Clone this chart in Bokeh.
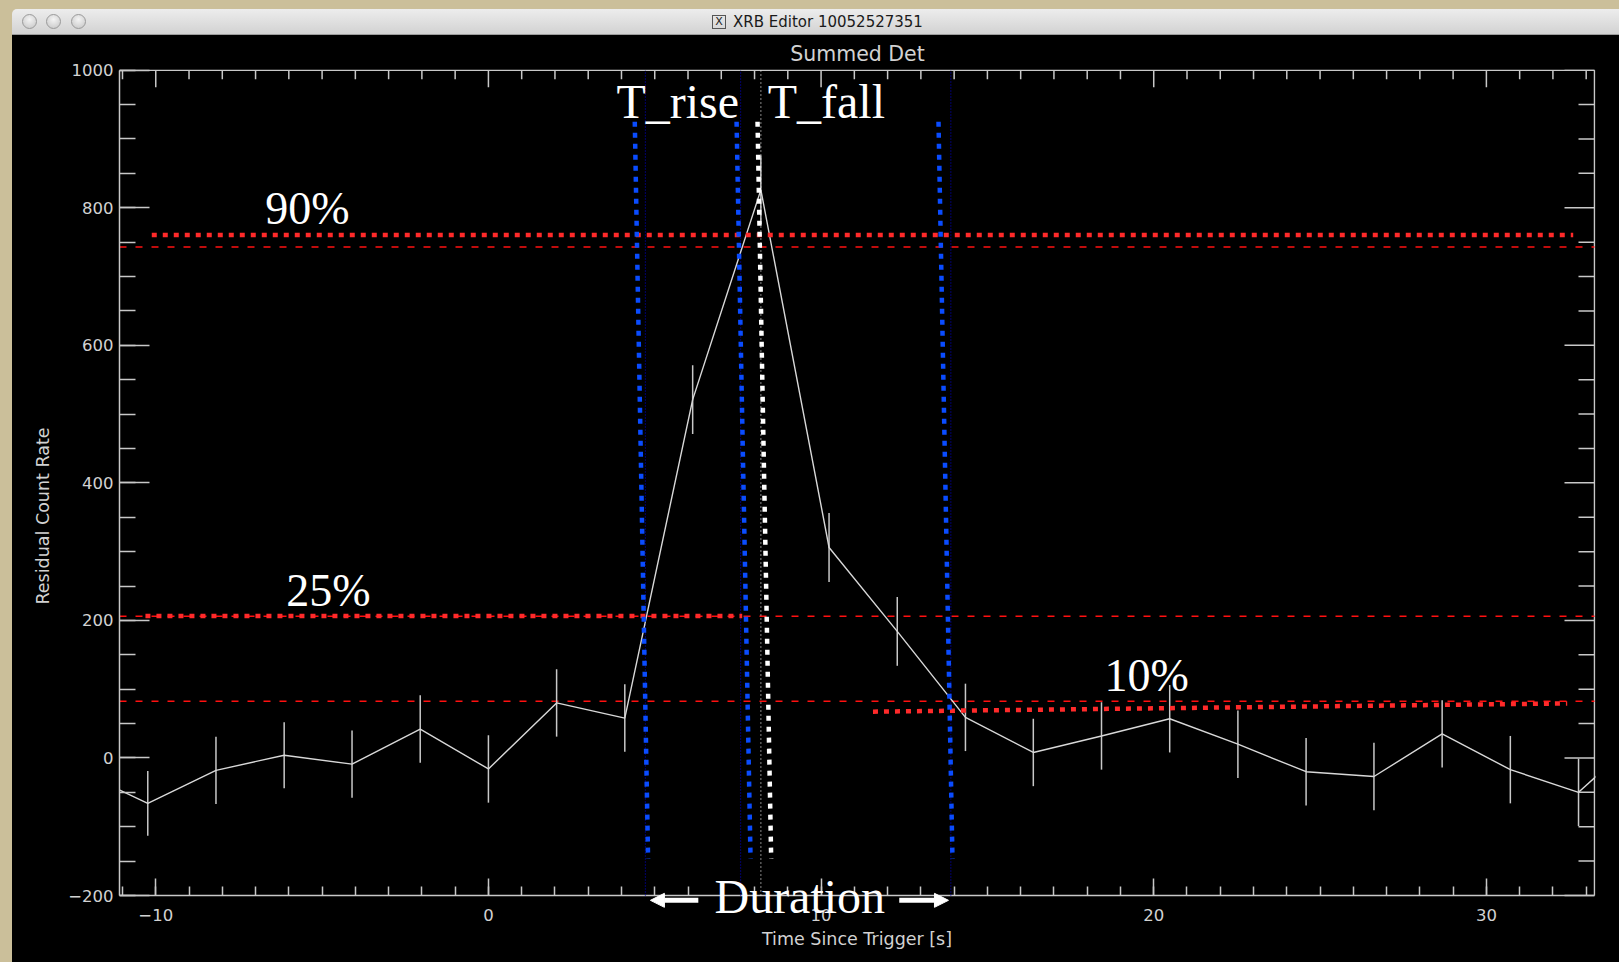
import math
from bokeh.plotting import figure
from bokeh.models import (Range1d, SingleIntervalTicker, Label, Arrow, NormalHead, Div,
                          ColumnDataSource)
from bokeh.layouts import column, row
from bokeh.embed import file_html
from bokeh.resources import INLINE

# ---------------- data ----------------
time_s = [-12.29, -10.24, -8.19, -6.14, -4.10, -2.05, 0.00, 2.05, 4.10, 6.14, 8.19, 10.24,
          12.29, 14.34, 16.38, 18.43, 20.48, 22.53, 24.58, 26.62, 28.67, 30.72, 32.77, 34.82]
rate = [-19, -66, -18, 4, -9, 42, -16, 80, 58, 521, 826, 306,
        184, 59, 8, 32, 57, 20, -20, -27, 35, -17, -50, 40]
rate_err = [48, 47, 49, 48, 49, 49, 49, 49, 49, 50, 50, 50,
            50, 49, 49, 49, 49, 49, 49, 49, 49, 49, 49, 49]

level_values = [743, 206, 82.5]          # 90%, 25%, 10% levels (thin red dashed)
blue_marks = [4.72, 7.58, 13.90]          # crossing times (thin blue dotted)
peak_mark = [8.19]                        # peak time (thin white dotted)

# hand-drawn overlay annotations (data coordinates)
red_x0 = [-10.12, -10.31, 11.56]
red_y0 = [760.5, 206.5, 67.3]
red_x1 = [32.61, 7.63, 32.43]
red_y1 = [760.5, 206.5, 79.3]
blue_x0 = [4.40, 7.46, 13.53]
blue_x1 = [4.80, 7.88, 13.95]
white_x0 = [8.09]
white_x1 = [8.50]
vline_top = 925
vline_bottom = -147

pct_texts = ["90%", "25%", "10%"]
pct_x = [-5.44, -4.81, 19.79]
pct_y = [799, 244, 120]
phase_texts = ["T_rise", "T_fall"]
phase_x = [5.69, 10.16]
phase_y = [954, 954]

# axis limits of the IDL plot box
X_LO, X_HI = -11.09, 33.25
Y_LO, Y_HI = -200, 1000
x_major_step, x_minor_step = 10, 1
y_major_step, y_minor_step = 200, 50

AX = "#c8c8c8"
TXT = "#d2d2d2"
FONT = "DejaVu Sans"
SERIF = "Liberation Serif"

p = figure(width=1607, height=927, x_range=Range1d(X_LO, 33.28), y_range=Range1d(-297.4, 1001),
           output_backend="svg", toolbar_location=None,
           background_fill_color="black", border_fill_color=None,
           min_border_left=107, min_border_right=24, min_border_top=34, min_border_bottom=0,
           styles={"background-color": "black"})
p.grid.visible = False
p.outline_line_color = None

p.title.text = "Summed Det"
p.title.align = "center"
p.title.text_font = FONT
p.title.text_font_size = "20.5px"
p.title.text_font_style = "normal"
p.title.text_color = TXT
p.title.standoff = 7

def style(ax, interval, nminor, tin, mtin):
    ax.ticker = SingleIntervalTicker(interval=interval, num_minor_ticks=nminor)
    ax.axis_line_color = AX
    ax.axis_line_width = 1.5
    ax.major_tick_line_color = AX
    ax.major_tick_line_width = 1.5
    ax.minor_tick_line_color = AX
    ax.minor_tick_line_width = 1.5
    ax.major_tick_in = tin
    ax.major_tick_out = 0
    ax.minor_tick_in = mtin
    ax.minor_tick_out = 0
    ax.major_label_text_font = FONT
    ax.major_label_text_font_size = "16.5px"
    ax.major_label_text_color = TXT
    ax.axis_label_text_font = FONT
    ax.axis_label_text_font_size = "17.5px"
    ax.axis_label_text_font_style = "normal"
    ax.axis_label_text_color = TXT

xax = p.xaxis[0]
style(xax, x_major_step, 10, 17, 9)
xax.fixed_location = Y_LO
xax.bounds = (X_LO, X_HI)
xax.axis_line_color = None
xax.major_label_standoff = 13
xax.axis_label = "Time Since Trigger [s]"
xax.axis_label_standoff = 5

yax = p.yaxis[0]
style(yax, y_major_step, 4, 30, 16)
yax.bounds = (Y_LO, Y_HI)
yax.major_label_standoff = 6
yax.axis_label = "Residual Count Rate"
yax.axis_label_standoff = 12

# bottom, top and right edges of the box, with inward ticks on top/right
top_major = list(range(-10, 31, x_major_step))
top_minor = [v for v in range(-11, 34, x_minor_step) if v % x_major_step != 0]
right_major = list(range(Y_LO, Y_HI + 1, y_major_step))
right_minor = [v for v in range(Y_LO, Y_HI + 1, y_minor_step) if v % y_major_step != 0]

p.segment(x0=[X_LO, X_LO, X_HI], y0=[Y_LO, Y_HI, Y_LO], x1=[X_HI, X_HI, X_HI],
          y1=[Y_LO, Y_HI, Y_HI], line_color=AX, line_width=1.5)
p.ray(x=top_major, y=[Y_HI] * len(top_major), length=17, length_units="screen",
      angle=-math.pi / 2, line_color=AX, line_width=1.5)
p.ray(x=top_minor, y=[Y_HI] * len(top_minor), length=9, length_units="screen",
      angle=-math.pi / 2, line_color=AX, line_width=1.5)
p.ray(x=[X_HI] * len(right_major), y=right_major, length=30, length_units="screen",
      angle=math.pi, line_color=AX, line_width=1.5)
p.ray(x=[X_HI] * len(right_minor), y=right_minor, length=16, length_units="screen",
      angle=math.pi, line_color=AX, line_width=1.5)

# level lines and markers from the plot itself
p.segment(x0=[X_LO] * 3, y0=level_values, x1=[X_HI] * 3, y1=level_values,
          line_color="#ff1010", line_width=1.6, line_dash="7 9")
p.segment(x0=blue_marks, y0=[Y_LO] * 3, x1=blue_marks, y1=[Y_HI] * 3,
          line_color="#0000b4", line_width=1.2, line_dash="1 2")
p.segment(x0=peak_mark, y0=[Y_LO], x1=peak_mark, y1=[Y_HI],
          line_color="#e0e0e0", line_width=1.2, line_dash="1 3")

# light curve with error bars
src = ColumnDataSource(dict(t=time_s, r=rate,
                            lo=[r - e for r, e in zip(rate, rate_err)],
                            hi=[r + e for r, e in zip(rate, rate_err)]))
p.segment("t", "lo", "t", "hi", source=src, line_color="#c8c8c8", line_width=1.5)
p.line("t", "r", source=src, line_color="#d8d8d8", line_width=1.4)

# overlay thick dotted annotation lines
p.segment(x0=red_x0, y0=red_y0, x1=red_x1, y1=red_y1, line_color="#ff2a2a",
          line_width=4.5, line_dash="5 6", line_cap="butt")
p.segment(x0=blue_x0, y0=[vline_top] * 3, x1=blue_x1, y1=[vline_bottom] * 3,
          line_color="#0a4cff", line_width=4.5, line_dash="5 6", line_cap="butt")
p.segment(x0=white_x0, y0=[vline_top], x1=white_x1, y1=[vline_bottom],
          line_color="#ffffff", line_width=4.5, line_dash="5 6", line_cap="butt")

for txt, x, y in zip(pct_texts, pct_x, pct_y):
    p.add_layout(Label(x=x, y=y, text=txt, text_font=SERIF, text_font_size="46px",
                       text_color="white", text_align="center", text_baseline="middle"))
for txt, x, y in zip(phase_texts, phase_x, phase_y):
    p.add_layout(Label(x=x, y=y, text=txt, text_font=SERIF, text_font_size="48px",
                       text_color="white", text_align="center", text_baseline="middle"))
p.add_layout(Label(x=9.36, y=-201.5, text="Duration", text_font=SERIF, text_font_size="48px",
                   text_color="white", text_align="center", text_baseline="middle"))
p.add_layout(Arrow(end=NormalHead(size=14, fill_color="white", line_color="white", line_width=1),
                   x_start=6.31, y_start=-207, x_end=4.87, y_end=-207,
                   line_color="white", line_width=5))
p.add_layout(Arrow(end=NormalHead(size=14, fill_color="white", line_color="white", line_width=1),
                   x_start=12.35, y_start=-207, x_end=13.83, y_end=-207,
                   line_color="white", line_width=5))

# window chrome
BEIGE = "#cbbf9a"
circ = ("position:absolute;top:5px;width:15px;height:15px;border-radius:50%;"
        "background:radial-gradient(circle at 50% 35%,#f4f4f4,#c4c4c4);border:1px solid #9a9a9a;")
title_html = (
    f'<div style="position:relative;width:1619px;height:35px;background:{BEIGE};overflow:hidden;">'
    '<div style="position:absolute;left:12px;top:9px;width:1607px;height:26px;'
    'background:linear-gradient(#ededed,#d2d2d2);border-top-left-radius:5px;'
    'border-bottom:1px solid #9c9c9c;box-sizing:border-box;">'
    f'<div style="{circ}left:10px;"></div>'
    f'<div style="{circ}left:34px;"></div>'
    f'<div style="{circ}left:59px;"></div>'
    '<div style="position:absolute;left:700px;top:6px;width:14px;height:14px;border:1px solid #555;'
    'box-sizing:border-box;font:11px DejaVu Sans;line-height:12px;text-align:center;color:#222;">X</div>'
    '<div style="position:absolute;left:721px;top:4px;font:15px \'DejaVu Sans\';color:#1a1a1a;'
    'white-space:nowrap;">XRB Editor 10052527351</div>'
    '</div></div>'
)
title_div = Div(text=title_html, width=1619, height=35, styles={"margin": "0", "padding": "0"})
strip_div = Div(text="", width=12, height=927,
                styles={"background-color": BEIGE, "margin": "0", "padding": "0"})

layout = column(title_div, row(strip_div, p, spacing=0), spacing=0)

open("out.html", "w").write(file_html(layout, INLINE))
